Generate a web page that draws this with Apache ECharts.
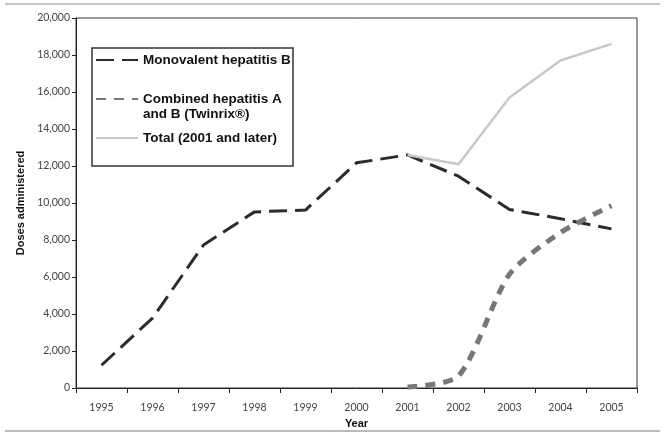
<!DOCTYPE html>
<html><head><meta charset="utf-8">
<script src="https://cdn.jsdelivr.net/npm/echarts@6/dist/echarts.min.js"></script>
<style>html,body{margin:0;padding:0;background:#fff}#c{width:667px;height:439px}</style>
</head><body><div id="c"></div>
<script>
const years = ['1995','1996','1997','1998','1999','2000','2001','2002','2003','2004','2005'];
const monovalent = [1230, 3780, 7730, 9520, 9620, 12170, 12600, 11450, 9650, 9150, 8600];
const combined = [null, null, null, null, null, null, 50, 650, 6150, 8400, 9850];
const total = [null, null, null, null, null, null, 12600, 12100, 15700, 17700, 18600];
const yTicks = [0, 2000, 4000, 6000, 8000, 10000, 12000, 14000, 16000, 18000, 20000];
const names = ['Monovalent hepatitis B', 'Combined hepatitis A\nand B (Twinrix®)', 'Total (2001 and later)'];

const legendText = {fontFamily: 'Liberation Sans, Arial', fontWeight: 'bold', fontSize: 13.5, color: '#111', lineHeight: 15};
function leg(name, top) {
  return {
    left: 95, top: top, padding: 0, itemWidth: 42, itemHeight: 14, itemGap: 2,
    textStyle: legendText, itemStyle: {opacity: 0, borderWidth: 0},
    data: [{name: name}]
  };
}

const chart = echarts.init(document.getElementById('c'));
chart.setOption({
  animation: false,
  backgroundColor: '#fff',
  grid: {left: 76, right: 30, top: 18, bottom: 51, show: true, borderColor: '#333', borderWidth: 1, backgroundColor: 'transparent'},
  legend: [
    leg(names[0], 52.5),
    Object.assign(leg(names[1], 76.5), {formatter: n => '\n' + n}),
    leg(names[2], 130.5)
  ],
  xAxis: {
    type: 'category', data: years, boundaryGap: true,
    name: 'Year', nameLocation: 'middle', nameGap: 30,
    nameTextStyle: {fontFamily: 'Liberation Sans, Arial', fontWeight: 'bold', fontSize: 11, color: '#111'},
    axisLine: {lineStyle: {color: '#222', width: 1}},
    axisTick: {show: true, length: 5, lineStyle: {color: '#222'}},
    axisLabel: {fontFamily: 'Lato, Open Sans', fontSize: 10.5, color: '#444', margin: 14}
  },
  yAxis: {
    type: 'value', min: 0, max: 20000, interval: 2000,
    name: 'Doses administered', nameLocation: 'middle', nameGap: 49, nameRotate: 90,
    nameTextStyle: {fontFamily: 'Liberation Sans, Arial', fontWeight: 'bold', fontSize: 11, color: '#111'},
    axisLine: {show: true, lineStyle: {color: '#222', width: 1}},
    axisTick: {show: true, length: 4, lineStyle: {color: '#222'}},
    splitLine: {show: false},
    axisLabel: {fontFamily: 'Lato, Open Sans', fontSize: 10.5, color: '#444', margin: 6,
      formatter: v => yTicks.includes(v) ? v.toLocaleString('en-US') : ''}
  },
  graphic: [
    {type: 'line', shape: {x1: 5, y1: 4, x2: 660, y2: 4}, style: {stroke: '#888', lineWidth: 1}},
    {type: 'line', shape: {x1: 5, y1: 431, x2: 660, y2: 431}, style: {stroke: '#777', lineWidth: 1}},
    {type: 'rect', shape: {x: 92, y: 48, width: 201, height: 118}, style: {fill: 'transparent', stroke: '#333', lineWidth: 1.5}, z: 10}
  ],
  series: [
    {name: names[0], type: 'line', data: monovalent, symbol: 'none',
      lineStyle: {color: '#2b2b2b', width: 3, type: [18, 8]}, itemStyle: {color: '#2b2b2b'}},
    {name: names[1], type: 'line', data: combined, symbol: 'none', smooth: 0.25,
      lineStyle: {color: '#777', width: 5, type: [10, 8]}, itemStyle: {color: '#777'}},
    {name: names[2], type: 'line', data: total, symbol: 'none',
      lineStyle: {color: '#c8c8c8', width: 2.5}, itemStyle: {color: '#c8c8c8'}}
  ]
});
</script></body></html>
